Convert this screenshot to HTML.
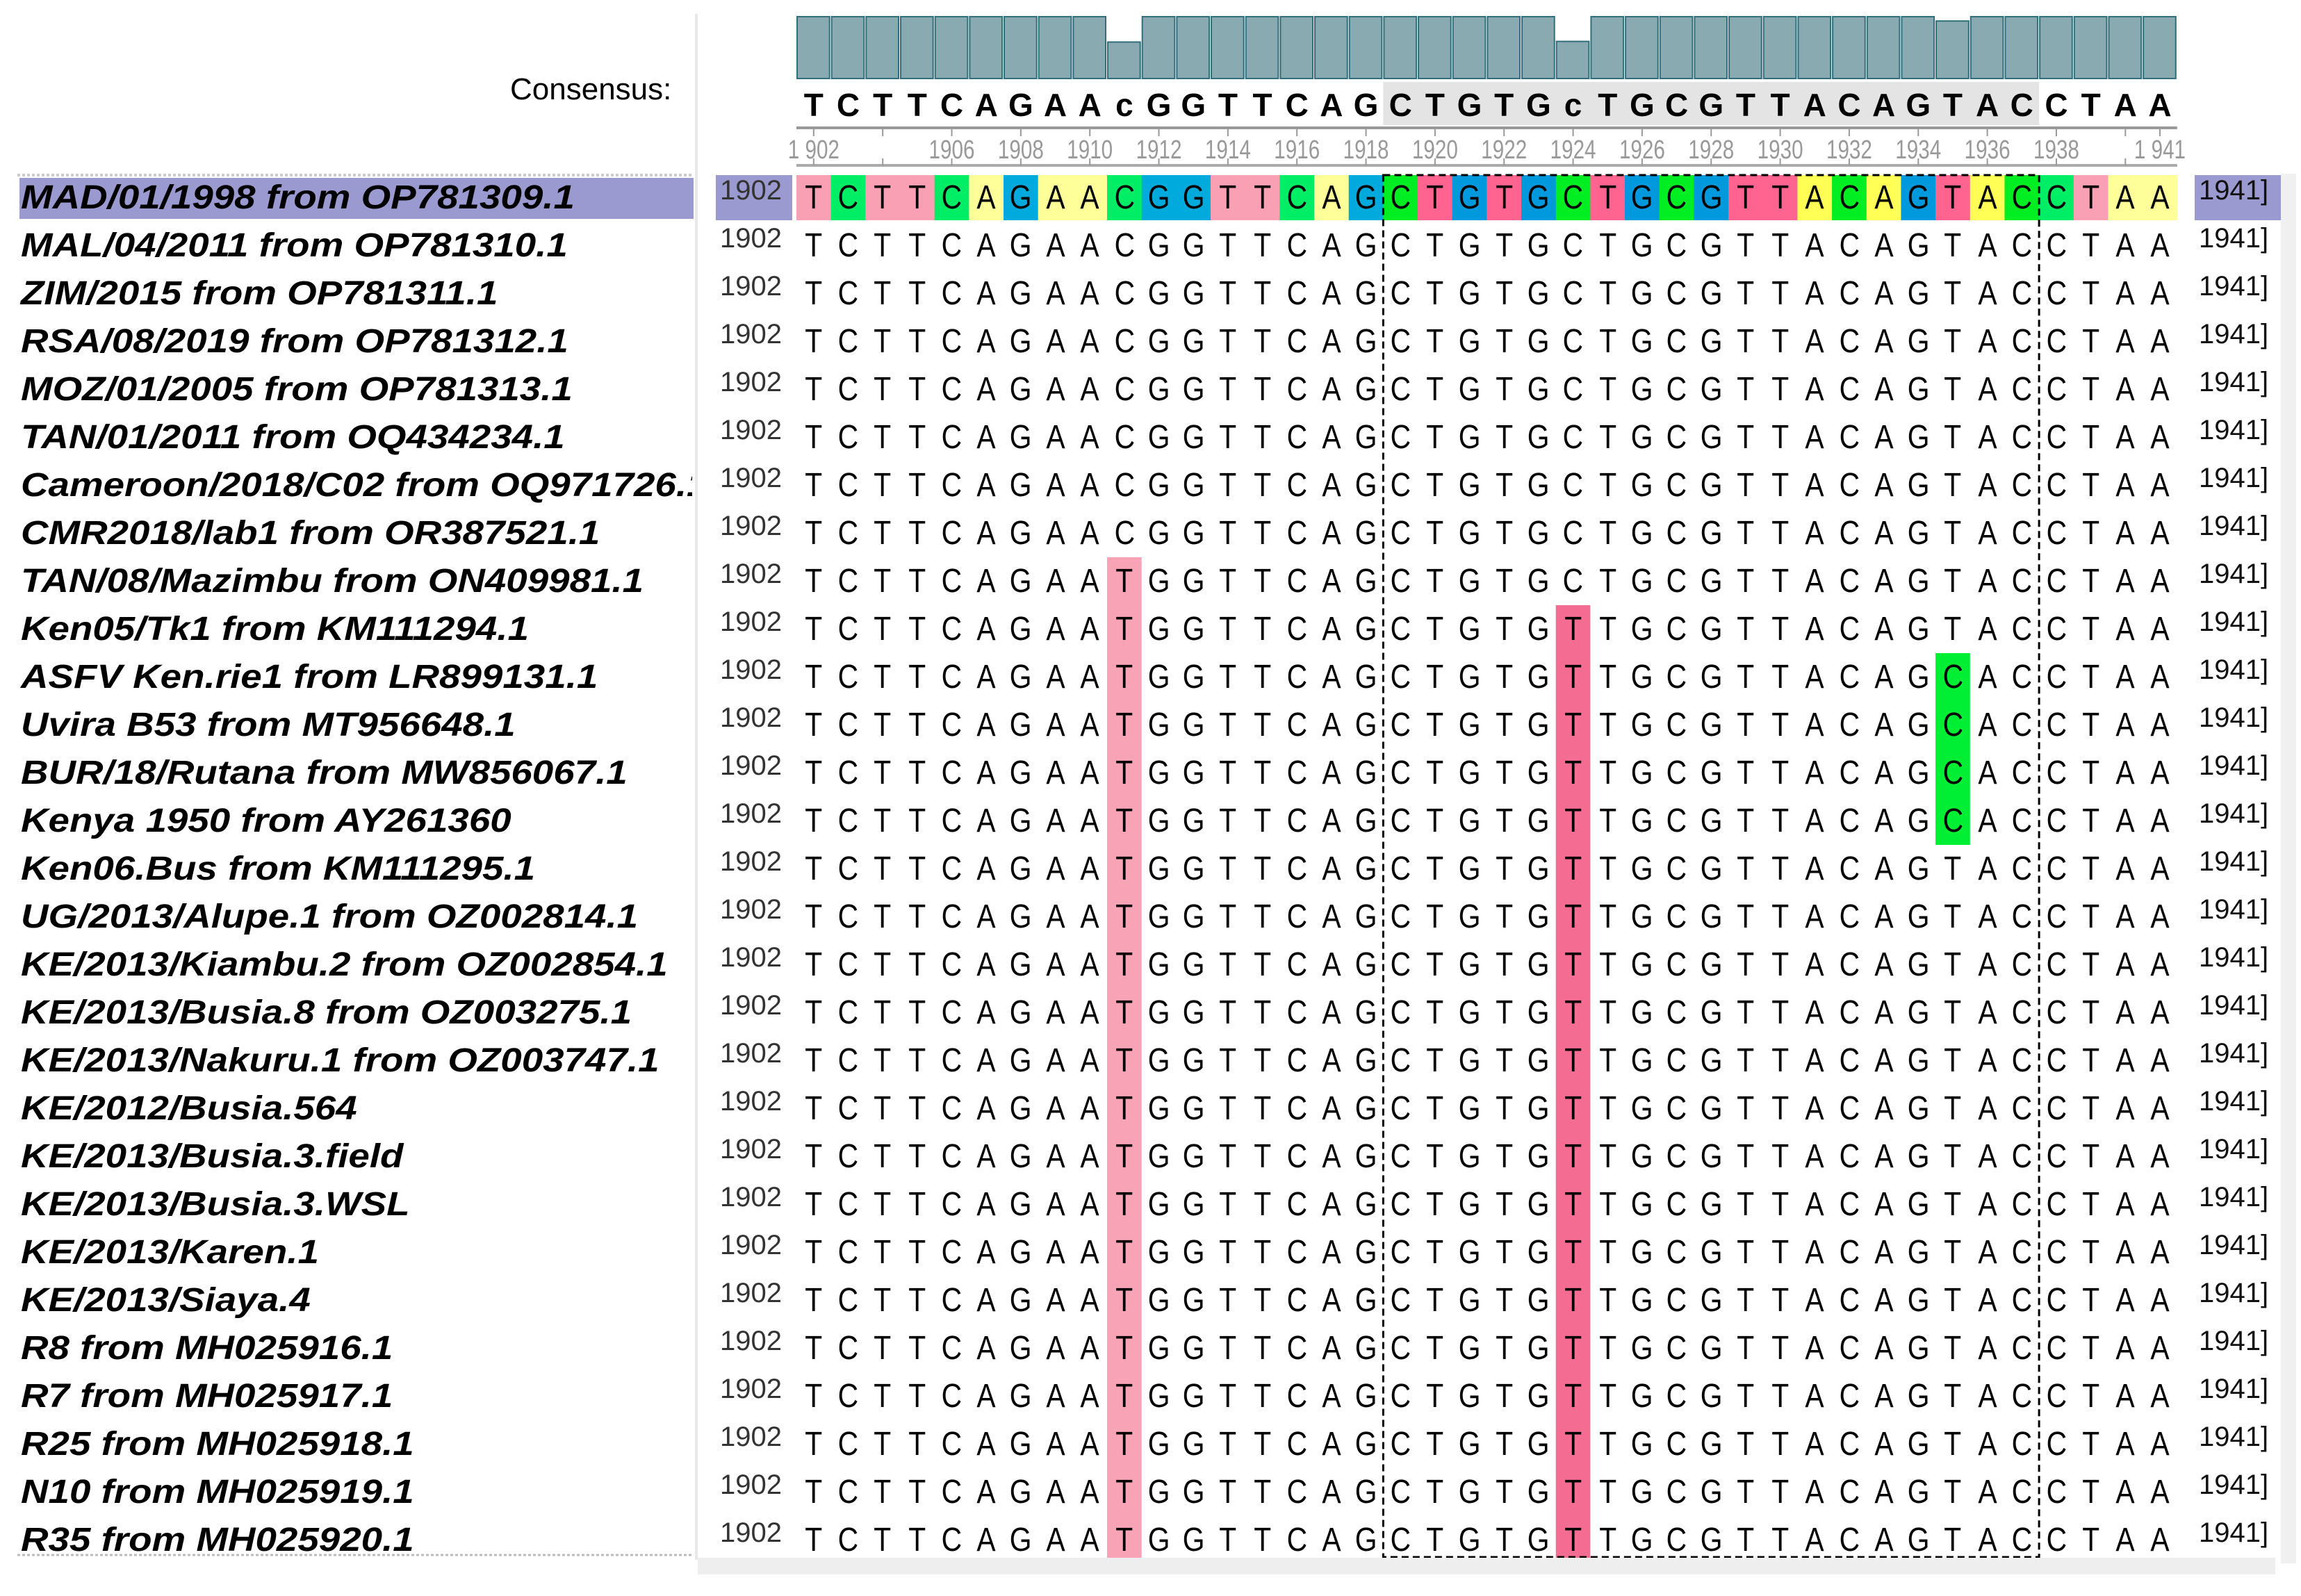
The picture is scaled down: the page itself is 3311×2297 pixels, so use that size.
<!DOCTYPE html>
<html><head><meta charset="utf-8">
<style>
html,body{margin:0;padding:0;background:#fff;}
body{width:3311px;height:2297px;position:relative;overflow:hidden;font-family:"Liberation Sans",sans-serif;}
.abs{position:absolute;}
#names{position:absolute;left:0;top:0;width:996px;height:2297px;overflow:hidden;}
.nm{position:absolute;left:30px;font:italic bold 48px "Liberation Sans",sans-serif;color:#000;white-space:nowrap;transform:scaleX(1.14);transform-origin:left center;line-height:69px;}
.cell{position:absolute;text-align:center;font-size:48px;line-height:69px;color:#000;}
.cell span{display:inline-block;transform:scaleX(0.85);}
.num{position:absolute;font-size:40px;color:#333;line-height:69px;}
</style></head><body>
<div class="abs" style="left:1000px;top:20px;width:4px;height:2225px;background:#e8e8e8"></div>
<div class="abs" style="left:734px;top:104px;font-size:44px;color:#000">Consensus:</div>
<svg id="svg" class="abs" style="left:0;top:0" width="3311" height="2297"></svg>
<div id="names"></div>
<div id="rows"></div>
<script>
const positions=["1902","1941"];
const consensus="TCTTCAGAAcGGTTCAGCTGTGcTGCGTTACAGTACCTAA";
const base="TCTTCAGAACGGTTCAGCTGTGCTGCGTTACAGTACCTAA";
const conservation=[100,100,100,100,100,100,100,100,100,59,100,100,100,100,100,100,100,100,100,100,100,100,60,100,100,100,100,100,100,100,100,100,100,93,100,100,100,100,100,100];
const names=["MAD/01/1998 from OP781309.1","MAL/04/2011 from OP781310.1","ZIM/2015 from OP781311.1","RSA/08/2019 from OP781312.1","MOZ/01/2005 from OP781313.1","TAN/01/2011 from OQ434234.1","Cameroon/2018/C02 from OQ971726.1","CMR2018/lab1 from OR387521.1","TAN/08/Mazimbu from ON409981.1","Ken05/Tk1 from KM111294.1","ASFV Ken.rie1 from LR899131.1","Uvira B53 from MT956648.1","BUR/18/Rutana from MW856067.1","Kenya 1950 from AY261360","Ken06.Bus from KM111295.1","UG/2013/Alupe.1 from OZ002814.1","KE/2013/Kiambu.2 from OZ002854.1","KE/2013/Busia.8 from OZ003275.1","KE/2013/Nakuru.1 from OZ003747.1","KE/2012/Busia.564","KE/2013/Busia.3.field","KE/2013/Busia.3.WSL","KE/2013/Karen.1","KE/2013/Siaya.4","R8 from MH025916.1","R7 from MH025917.1","R25 from MH025918.1","N10 from MH025919.1","R35 from MH025920.1"];
// variants: [rowStart,rowEnd,colIndex,base,color]
const variants=[[8,28,9,"T","#f9a3b6"],[9,28,22,"T","#f56c93"],[10,13,33,"C","#00ee33"]];
const rulerLabels=[[0,"1 902"],[4,"1906"],[6,"1908"],[8,"1910"],[10,"1912"],[12,"1914"],[14,"1916"],[16,"1918"],[18,"1920"],[20,"1922"],[22,"1924"],[24,"1926"],[26,"1928"],[28,"1930"],[30,"1932"],[32,"1934"],[34,"1936"],[36,"1938"],[39,"1 941"]];
const X0=1146,CW=49.67,Y0=250,RH=69;
const colX=i=>X0+i*CW;
const rowY=r=>Y0+r*RH;
const svg=document.getElementById('svg');const NS="http://www.w3.org/2000/svg";
function mk(t,a){const e=document.createElementNS(NS,t);for(const k in a)e.setAttribute(k,a[k]);svg.appendChild(e);return e;}
let g=mk('rect',{x:colX(17),y:118,width:19*CW,height:62,fill:'#e4e4e4'});

const barBottom=113,barTop=24;
conservation.forEach((v,i)=>{const h=(barBottom-barTop)*v/100;
 const b=mk('rect',{x:colX(i)+1,y:barBottom-h,width:CW-3,height:h,fill:'#8aaab2',stroke:'#2f6e7a','stroke-width':2});
 });
[...consensus].forEach((c,i)=>{const t=mk('text',{x:colX(i)+CW/2,y:167,'text-anchor':'middle','font-size':46,'font-weight':'bold','font-family':'Liberation Sans'});t.textContent=c;
 });
mk('line',{x1:X0,x2:colX(40),y1:184,y2:184,stroke:'#999','stroke-width':4});
mk('line',{x1:X0,x2:colX(40),y1:238,y2:238,stroke:'#aaa','stroke-width':4});
for(let i=0;i<40;i+=2){mk('line',{x1:colX(i)+CW/2,x2:colX(i)+CW/2,y1:184,y2:196,stroke:'#999','stroke-width':2});mk('line',{x1:colX(i)+CW/2,x2:colX(i)+CW/2,y1:228,y2:238,stroke:'#999','stroke-width':2});}
mk('line',{x1:colX(39)+CW/2,x2:colX(39)+CW/2,y1:184,y2:196,stroke:'#999','stroke-width':2});
rulerLabels.forEach(([i,l])=>{const cx=colX(i)+CW/2;const t=mk('text',{x:0,y:0,'text-anchor':'middle','font-size':38,fill:'#999','font-family':'Liberation Sans',transform:`translate(${cx},228) scale(0.78,1)`});t.textContent=l;
 });
const light={T:'#f9a0b4',C:'#00ee66',A:'#ffff99',G:'#00aadd'},dark={T:'#ff6490',C:'#00ee22',A:'#ffff55',G:'#0099dd'};
mk('rect',{x:28,y:rowY(0)+6,width:970,height:RH-10,fill:'#9a9ad0'});
mk('line',{x1:25,x2:998,y1:rowY(0)+2,y2:rowY(0)+2,stroke:'#ccc','stroke-width':4,'stroke-dasharray':'4 3'});
mk('rect',{x:1030,y:rowY(0)+2,width:110,height:RH-4,fill:'#9a9ad0'});
mk('rect',{x:3158,y:rowY(0)+2,width:132,height:RH-4,fill:'#9a9ad0'});
[...base].forEach((c,i)=>{const inBox=i>=17&&i<=35;mk('rect',{x:colX(i),y:rowY(0)+2,width:CW+0.5,height:RH-4,fill:(inBox?dark:light)[c]});});
variants.forEach(([r0,r1,ci,b,col])=>{const v=mk('rect',{x:colX(ci),y:rowY(r0),width:CW,height:(r1-r0+1)*RH,fill:col});
 });
const bx=mk('rect',{x:colX(17),y:rowY(0)+2,width:19*CW,height:names.length*RH-12,fill:'none',stroke:'#000','stroke-width':3,'stroke-dasharray':'10 6'});

mk('line',{x1:25,x2:998,y1:2238,y2:2238,stroke:'#bbb','stroke-width':3,'stroke-dasharray':'4 3'});
mk('rect',{x:1004,y:2242,width:2270,height:24,fill:'#eee'});
mk('rect',{x:3282,y:250,width:22,height:2000,fill:'#f0f0f0'});
const rows=document.getElementById('rows');const nbox=document.getElementById('names');
names.forEach((n,r)=>{
 const d=document.createElement('div');d.className='nm';d.style.top=rowY(r)+'px';d.textContent=n;
 nbox.appendChild(d);
 const a=document.createElement('div');a.className='num';a.style.left='1036px';a.style.top=(rowY(r)-10)+'px';a.textContent=positions[0];
 rows.appendChild(a);
 const z=document.createElement('div');z.className='num';z.style.left='3164px';z.style.top=(rowY(r)-10)+'px';z.style.color='#111';z.textContent=positions[1]+']';
 rows.appendChild(z);
 let seq=[...base];variants.forEach(([r0,r1,ci,b])=>{if(r>=r0&&r<=r1)seq[ci]=b;});
 seq.forEach((c,i)=>{const e=document.createElement('div');e.className='cell';e.style.left=colX(i)+'px';e.style.top=rowY(r)+'px';e.style.width=CW+'px';
  e.innerHTML='<span>'+c+'</span>';
  rows.appendChild(e);});
});
</script>
</body></html>
